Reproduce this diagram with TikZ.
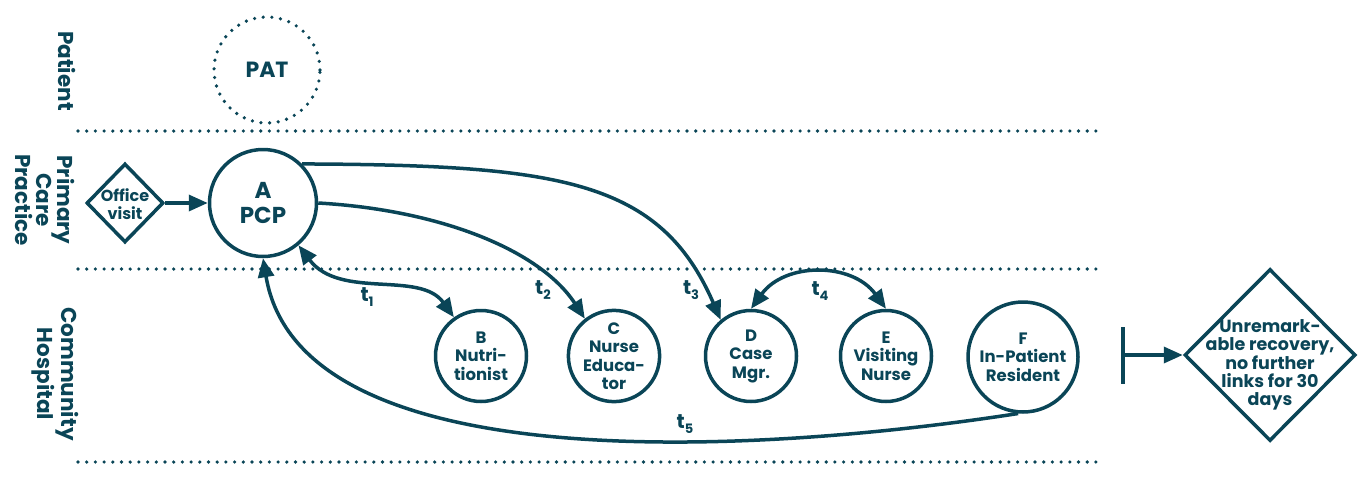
\documentclass[tikz,border=0pt]{standalone}
\usepackage{fontspec}
\setmainfont{Poppins}
\usetikzlibrary{arrows.meta,shapes.geometric}
\definecolor{dteal}{RGB}{10,69,87}
\begin{document}
\begin{tikzpicture}[x=1pt,y=-1pt,line width=3.5pt,color=dteal,
  lane/.style={dash pattern=on 0pt off 8.7pt,line cap=round,line width=3.6pt},
  actor/.style={circle,draw,line width=3.5pt,inner sep=0pt,align=center,
    font=\bfseries\fontsize{16.5}{18.5}\selectfont},
  big/.style={font=\bfseries\fontsize{23}{25}\selectfont},
  arr/.style={-{Triangle[length=19pt,width=16pt]}},
  darr/.style={{Triangle[length=19pt,width=16pt]}-{Triangle[length=19pt,width=16pt]}},
  tlbl/.style={font=\bfseries\fontsize{20}{22}\selectfont},
  lanelbl/.style={rotate=-90,align=center,font=\bfseries\fontsize{21.5}{21}\selectfont},
  dia/.style={diamond,draw,line width=3.5pt,inner sep=0pt,aspect=1},
  diatxt/.style={align=center,inner sep=0pt,font=\bfseries\fontsize{17.5}{17.8}\selectfont}
]
\useasboundingbox (0,0) rectangle (1362,498);
% lanes
\coordinate (l1a) at (78,131); \coordinate (l1b) at (1101,131);
\coordinate (l2a) at (78,269); \coordinate (l2b) at (1101,269);
\coordinate (l3a) at (78,462); \coordinate (l3b) at (1101,462);
\draw[lane] (l1a) -- (l1b);
\draw[lane] (l2a) -- (l2b);
\draw[lane] (l3a) -- (l3b);
% lane labels
\node[lanelbl] (lpat) at (67,71) {Patient};
\node[lanelbl] (lpcp) at (45,200) {Primary\\Care\\Practice};
\node[lanelbl] (lch) at (55,374) {Community\\Hospital};
% nodes
\node[circle,draw,lane,minimum size=106pt,inner sep=0pt,big,font=\bfseries\fontsize{22}{25}\selectfont] (pat) at (267,70) {PAT};
\node[dia,minimum width=77pt,minimum height=79pt] (ov) at (125,203) {};
\node[diatxt,font=\bfseries\fontsize{16}{18}\selectfont] (ovt) at (125,204) {Office\\visit};
\node[actor,minimum size=107pt,big] (A) at (263,203) {A\\PCP};
\node[actor,minimum size=91pt] (B) at (481,356) {B\\Nutri-\\tionist};
\node[actor,minimum size=91pt] (C) at (614,356) {C\\Nurse\\Educa-\\tor};
\node[actor,minimum size=91pt] (D) at (751,356) {D\\Case\\Mgr.};
\node[actor,minimum size=91pt] (E) at (886,356) {E\\Visiting\\Nurse};
\node[actor,minimum size=110pt] (F) at (1023,357) {F\\In-Patient\\Resident};
\node[dia,minimum width=171pt,minimum height=172pt] (fin) at (1270,355) {};
\node[diatxt] (fint) at (1270,365) {Unremark-\\able recovery,\\no further\\links for 30\\days};
\coordinate (bar) at (1121,355);
% connectors
\draw[arr] (ov) -- (A);
\draw[arr] (A.45) .. controls (560,165) and (660,180) .. (D.130);
\draw[arr] (A.0) .. controls (440,210) and (540,250) .. (C.128);
\draw[darr] (A.-50) .. controls (340,300) and (420,270) .. (B.125);
\draw[darr] (D.90) .. controls (785,262) and (852,262) .. (E.90);
\draw[arr] (F.-95) .. controls (750,455) and (300,480) .. (A.-90);
\draw[{Bar[width=57pt]}-{Triangle[length=19pt,width=16pt]}] (bar) -- (fin.west);
% labels
\node[tlbl] (t1) at (367,297) {t\raisebox{-5.5pt}{\fontsize{13}{13}\selectfont 1}};
\node[tlbl] (t2) at (543,290) {t\raisebox{-5.5pt}{\fontsize{13}{13}\selectfont 2}};
\node[tlbl] (t3) at (691,290) {t\raisebox{-5.5pt}{\fontsize{13}{13}\selectfont 3}};
\node[tlbl] (t4) at (820,291) {t\raisebox{-5.5pt}{\fontsize{13}{13}\selectfont 4}};
\node[tlbl] (t5) at (685,424) {t\raisebox{-5.5pt}{\fontsize{13}{13}\selectfont 5}};
\end{tikzpicture}
\end{document}
